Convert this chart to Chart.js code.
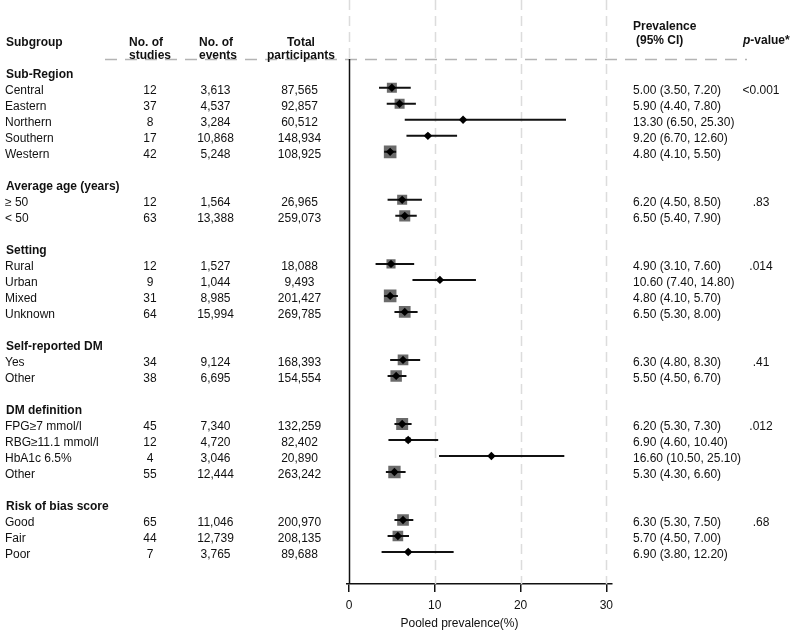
<!DOCTYPE html>
<html>
<head>
<meta charset="utf-8">
<title>Pooled prevalence by subgroup</title>
<script src="https://cdn.jsdelivr.net/npm/chart.js@4.4.1/dist/chart.umd.min.js"></script>
<style>
  html, body { margin: 0; padding: 0; background: #fff; }
  #wrap { position: relative; width: 800px; height: 634px; }
</style>
</head>
<body>
<div id="wrap"><canvas id="forest"></canvas></div>
<script>
// groups and their heterogeneity p-values
const groups = ["Sub-Region", "Average age (years)", "Setting", "Self-reported DM", "DM definition", "Risk of bias score"];
const groupPValues = ["<0.001", ".83", ".014", ".41", ".012", ".68"];

// subgroup rows
const subgroups = ["Central", "Eastern", "Northern", "Southern", "Western",
  "\u2265 50", "< 50",
  "Rural", "Urban", "Mixed", "Unknown",
  "Yes", "Other",
  "FPG\u22657 mmol/l", "RBG\u226511.1 mmol/l", "HbA1c 6.5%", "Other",
  "Good", "Fair", "Poor"];
const subgroupGroup = [0, 0, 0, 0, 0, 1, 1, 2, 2, 2, 2, 3, 3, 4, 4, 4, 4, 5, 5, 5];
const studies = [12, 37, 8, 17, 42, 12, 63, 12, 9, 31, 64, 34, 38, 45, 12, 4, 55, 65, 44, 7];
const events = [3613, 4537, 3284, 10868, 5248, 1564, 13388, 1527, 1044, 8985, 15994, 9124, 6695, 7340, 4720, 3046, 12444, 11046, 12739, 3765];
const participants = [87565, 92857, 60512, 148934, 108925, 26965, 259073, 18088, 9493, 201427, 269785, 168393, 154554, 132259, 82402, 20890, 263242, 200970, 208135, 89688];
const prevalence = [5.0, 5.9, 13.3, 9.2, 4.8, 6.2, 6.5, 4.9, 10.6, 4.8, 6.5, 6.3, 5.5, 6.2, 6.9, 16.6, 5.3, 6.3, 5.7, 6.9];
const ciLower = [3.5, 4.4, 6.5, 6.7, 4.1, 4.5, 5.4, 3.1, 7.4, 4.1, 5.3, 4.8, 4.5, 5.3, 4.6, 10.5, 4.3, 5.3, 4.5, 3.8];
const ciUpper = [7.2, 7.8, 25.3, 12.6, 5.5, 8.5, 7.9, 7.6, 14.8, 5.7, 8.0, 8.3, 6.7, 7.3, 10.4, 25.1, 6.6, 7.5, 7.0, 12.2];
// relative weight (drives the grey box size)
const boxWeight = [0.77, 0.77, 0.3, 0.35, 0.97, 0.77, 0.85, 0.7, 0.3, 0.97, 0.9, 0.82, 0.88, 0.92, 0.4, 0.3, 0.95, 0.9, 0.82, 0.35];

const xTicks = [0, 10, 20, 30];
const xTitle = "Pooled prevalence(%)";

// row layout: header, its subgroups, then a blank row
const rowOf = [];
const headerRow = [];
let r = 0;
groups.forEach((g, gi) => {
  headerRow.push(r); r++;
  subgroups.forEach((s, i) => {
    if (subgroupGroup[i] === gi) { rowOf[i] = r; r++; }
  });
  r++;
});

const FONT = "Arial, 'Liberation Sans', sans-serif";
const INK = "#111";
const MAX_BOX = 13;

const fmt = n => n.toLocaleString("en-US");
const ciText = i => `${prevalence[i].toFixed(2)} (${ciLower[i].toFixed(2)}, ${ciUpper[i].toFixed(2)})`;

// CI segments, separated by gaps
const ciData = [];
subgroups.forEach((s, i) => {
  ciData.push({ x: ciLower[i], y: rowOf[i] });
  ciData.push({ x: ciUpper[i], y: rowOf[i] });
  ciData.push({ x: null, y: null });
});
const estData = subgroups.map((s, i) => ({ x: prevalence[i], y: rowOf[i] }));

// dashed grid, reference line at 0, header rule
const backdrop = {
  id: "backdrop",
  beforeDatasetsDraw(chart) {
    const { ctx, chartArea, scales } = chart;
    ctx.save();
    ctx.strokeStyle = "#dcdcdc";
    ctx.lineWidth = 1.5;
    ctx.setLineDash([10, 6]);
    xTicks.forEach(v => {
      const x = Math.round(scales.x.getPixelForValue(v)) + 0.5;
      ctx.beginPath();
      ctx.moveTo(x, 0);
      ctx.lineTo(x, v === 0 ? chartArea.top : chartArea.bottom);
      ctx.stroke();
    });
    // header rule
    ctx.strokeStyle = "#b4b4b4";
    ctx.setLineDash([12, 8]);
    ctx.beginPath();
    ctx.moveTo(105, chartArea.top + 0.5);
    ctx.lineTo(747, chartArea.top + 0.5);
    ctx.stroke();
    // solid line at 0
    ctx.setLineDash([]);
    ctx.strokeStyle = INK;
    const x0 = Math.round(scales.x.getPixelForValue(0)) + 0.5;
    ctx.beginPath();
    ctx.moveTo(x0, chartArea.top);
    ctx.lineTo(x0, chartArea.bottom);
    ctx.stroke();
    ctx.restore();
  }
};

// table columns and headings
const table = {
  id: "table",
  afterDraw(chart) {
    const { ctx, scales } = chart;
    const yAt = row => scales.y.getPixelForValue(row) + 6.2;
    ctx.save();
    ctx.fillStyle = INK;
    ctx.textBaseline = "alphabetic";

    ctx.font = `bold 12px ${FONT}`;
    ctx.textAlign = "left";
    ctx.fillText("Subgroup", 6, 46);
    ctx.fillText("No. of", 129, 46);
    ctx.fillText("studies", 129, 59);
    ctx.fillText("No. of", 199, 46);
    ctx.fillText("events", 199, 59);
    ctx.fillText("Prevalence", 633, 30);
    ctx.fillText("(95% CI)", 636, 43.5);
    ctx.font = `italic bold 12px ${FONT}`;
    ctx.fillText("p", 743, 43.5);
    const pw = ctx.measureText("p").width;
    ctx.font = `bold 12px ${FONT}`;
    ctx.fillText("-value*", 743 + pw, 43.5);
    ctx.textAlign = "center";
    ctx.fillText("Total", 301, 46);
    ctx.fillText("participants", 301, 59);

    ctx.textAlign = "left";
    groups.forEach((g, gi) => ctx.fillText(g, 6, yAt(headerRow[gi])));

    ctx.font = `12px ${FONT}`;
    subgroups.forEach((s, i) => {
      const y = yAt(rowOf[i]);
      ctx.textAlign = "left";
      ctx.fillText(s, 5, y);
      ctx.fillText(ciText(i), 633, y);
      ctx.textAlign = "center";
      ctx.fillText(String(studies[i]), 150, y);
      ctx.fillText(fmt(events[i]), 215.5, y);
      ctx.fillText(fmt(participants[i]), 299.5, y);
    });

    ctx.textAlign = "center";
    groups.forEach((g, gi) => {
      const first = subgroupGroup.indexOf(gi);
      ctx.fillText(groupPValues[gi], 761, yAt(rowOf[first]));
    });

    ctx.fillText(xTitle, 459.5, 627);
    ctx.restore();
  }
};

new Chart(document.getElementById("forest"), {
  type: "scatter",
  data: {
    datasets: [
      {
        label: "Estimate",
        data: estData,
        pointStyle: "rectRot",
        pointRadius: 4.2,
        backgroundColor: "#000",
        borderWidth: 0,
        order: 1
      },
      {
        label: "95% CI",
        data: ciData,
        showLine: true,
        spanGaps: false,
        pointRadius: 0,
        borderColor: INK,
        borderWidth: 2,
        order: 2
      },
      {
        label: "Weight",
        data: estData,
        pointStyle: "rect",
        pointRadius: ctx => boxWeight[ctx.dataIndex] * MAX_BOX / Math.SQRT2,
        backgroundColor: "#6b6b6b",
        borderWidth: 0,
        order: 3
      }
    ]
  },
  options: {
    responsive: true,
    maintainAspectRatio: false,
    animation: false,
    events: [],
    layout: { padding: { left: 346.4, right: 188.5, top: 59, bottom: 20 } },
    plugins: { legend: { display: false }, tooltip: { enabled: false } },
    scales: {
      x: {
        type: "linear",
        min: -0.3,
        max: 30.6,
        afterBuildTicks: s => { s.ticks = xTicks.map(v => ({ value: v })); },
        afterFit: s => { s.height = 30; },
        grid: { drawOnChartArea: false, drawTicks: true, tickLength: 8, tickColor: INK, lineWidth: 1.5 },
        border: { color: INK, width: 1.5 },
        ticks: { color: INK, padding: 6, font: { family: FONT, size: 12 }, maxRotation: 0 }
      },
      y: {
        type: "linear",
        reverse: true,
        min: -0.8,
        max: 32,
        display: false
      }
    }
  },
  plugins: [backdrop, table]
});
</script>
</body>
</html>
